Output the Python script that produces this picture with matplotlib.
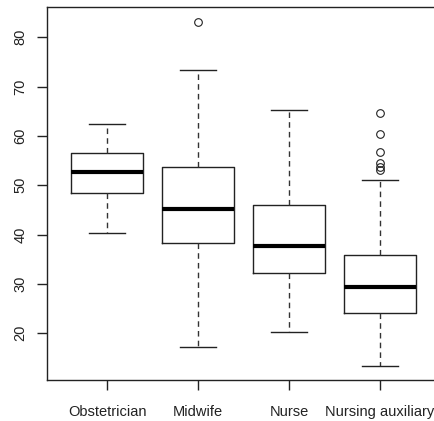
import matplotlib.pyplot as plt

# Age distribution by profession (summary statistics of each box)
groups = ["Obstetrician", "Midwife", "Nurse", "Nursing auxiliary"]
whislo = [40.4, 17.2, 20.2, 13.3]
q1 = [48.4, 38.3, 32.3, 24.2]
med = [52.6, 45.1, 37.6, 29.35]
q3 = [56.5, 53.7, 46.1, 35.9]
whishi = [62.4, 73.3, 65.3, 51.0]
fliers = [
    [],
    [83.1],
    [],
    [64.7, 60.3, 56.7, 54.6, 53.8, 53.2],
]

plt.rcParams['font.family'] = ['Liberation Sans', 'DejaVu Sans']

stats = []
for i, g in enumerate(groups):
    stats.append({
        "label": g,
        "whislo": whislo[i],
        "q1": q1[i],
        "med": med[i],
        "q3": q3[i],
        "whishi": whishi[i],
        "fliers": fliers[i],
    })

fig = plt.figure(figsize=(4.35, 4.21), dpi=100)
ax = fig.add_axes([47 / 435, 1 - 380.3 / 421, 393 / 435, 373 / 421])

ax.bxp(
    stats,
    positions=[1, 2, 3, 4],
    widths=0.8,
    patch_artist=False,
    boxprops=dict(color="#222222", linewidth=1.0),
    whiskerprops=dict(color="#333333", linewidth=1.0, linestyle=(0, (4, 3))),
    capprops=dict(color="#222222", linewidth=1.0),
    medianprops=dict(color="black", linewidth=3.0, solid_capstyle="butt"),
    flierprops=dict(marker="o", markersize=5.5, markerfacecolor="none",
                    markeredgecolor="#222222", markeredgewidth=0.8),
    capwidths=0.4,
)

ax.set_xlim(0.34, 4.66)
ax.set_ylim(10.47, 86.08)
ax.set_yticks([20, 30, 40, 50, 60, 70, 80])
ax.set_xticks([1, 2, 3, 4])
ax.set_xticklabels(groups)

for side in ["right"]:
    ax.spines[side].set_visible(False)
for s in ax.spines.values():
    s.set_color("#222222")
    s.set_linewidth(1.0)

ax.tick_params(axis="both", direction="out", length=7, width=1.0,
               color="#222222", labelsize=10.5, labelcolor="#222222")
ax.tick_params(axis="x", pad=11)
ax.tick_params(axis="y", pad=7)
for lab in ax.get_yticklabels():
    lab.set_rotation(90)
    lab.set_va("center")

fig.savefig("out.png", dpi=100)
